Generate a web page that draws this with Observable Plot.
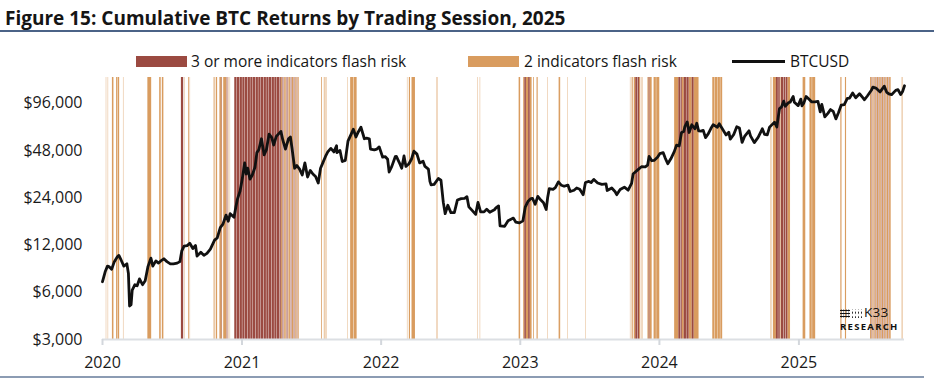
<!DOCTYPE html>
<html><head><meta charset="utf-8">
<script src="https://cdn.jsdelivr.net/npm/d3@7"></script>
<script src="https://cdn.jsdelivr.net/npm/@observablehq/plot@0.6"></script>
<style>
body{margin:0;background:#fff;font-family:"Open Sans",sans-serif;color:#111;}
#wrap{position:relative;width:934px;height:386px;overflow:hidden;background:#fff;}
#chart{position:absolute;left:0;top:0;}
.title{position:absolute;left:5px;top:5px;font-weight:700;font-size:19px;white-space:nowrap;color:#151515;}
.hr{position:absolute;left:0;width:934px;}
.sw{position:absolute;}
.lt{position:absolute;font-size:15.5px;white-space:nowrap;color:#151515;line-height:20px;}
.logo{position:absolute;white-space:nowrap;}
</style></head>
<body>
<div id="wrap">
  <div id="chart"></div>
  <div class="title" id="title"></div>
  <div class="hr" style="top:30px;height:1.5px;background:#4b6387"></div>
  <div class="hr" style="top:376px;height:2px;width:924px;background:#8c9cb3"></div>
  <div id="legend"></div>
  <div class="logo" style="left:840px;top:309px;width:10px;height:9px;background-image:radial-gradient(circle,#111 0.9px,transparent 1.1px);background-size:2.5px 3px;"></div>
  <div class="logo" style="left:851px;top:309px;width:12px;height:9px;background-image:radial-gradient(circle,#111 0.8px,transparent 1px);background-size:3px 4.5px;background-position:0 1.5px;"></div>
  <div class="logo" id="k33" style="left:864px;top:306px;font-size:13.5px;line-height:13px;letter-spacing:0.3px;"></div>
  <div class="logo" id="research" style="left:840px;top:322px;font-size:9.5px;line-height:9px;font-weight:700;letter-spacing:1.3px;"></div>
</div>
<script>
const titleText = "Figure 15: Cumulative BTC Returns by Trading Session, 2025";
const legendLabels = ["3 or more indicators flash risk", "2 indicators flash risk", "BTCUSD"];
const colorRisk3 = "#9b4a41";
const colorRisk2 = "#d99c5f";
const yTicks = [3000, 6000, 12000, 24000, 48000, 96000];
const yearTicks = ["2020-01-01","2021-01-01","2022-01-01","2023-01-01","2024-01-01","2025-01-01"];

// periods where 3 or more indicators flash risk [start, end)
const risk3Ranges = [
  ["2020-07-26","2020-08-01"],["2020-11-08","2020-11-09"],["2020-11-23","2020-11-25"],
  ["2020-12-13","2020-12-19"],["2020-12-20","2020-12-26"],["2020-12-27","2021-01-02"],
  ["2021-01-03","2021-01-09"],["2021-01-10","2021-01-16"],["2021-01-17","2021-01-23"],
  ["2021-01-24","2021-01-30"],["2021-01-31","2021-02-06"],["2021-02-07","2021-02-13"],
  ["2021-02-14","2021-02-20"],["2021-02-21","2021-02-27"],["2021-02-28","2021-03-06"],
  ["2021-03-07","2021-03-13"],["2021-03-14","2021-03-20"],["2021-03-21","2021-03-27"],
  ["2021-03-28","2021-04-03"],["2021-04-04","2021-04-10"],["2021-04-11","2021-04-14"],
  ["2021-04-17","2021-04-18"],["2021-04-19","2021-04-20"],["2021-04-21","2021-04-22"],
  ["2021-04-28","2021-04-29"],["2021-04-30","2021-05-01"],["2021-05-02","2021-05-03"],
  ["2021-05-09","2021-05-10"],["2021-05-11","2021-05-12"],["2021-05-18","2021-05-19"],
  ["2021-05-20","2021-05-21"],["2021-05-26","2021-05-27"],
  ["2023-01-13","2023-01-17"],["2023-01-23","2023-01-27"],
  ["2023-10-31","2023-11-05"],["2023-11-06","2023-11-10"],["2023-12-05","2023-12-07"],
  ["2024-02-21","2024-02-26"],["2024-02-27","2024-03-01"],["2024-03-06","2024-03-12"],
  ["2024-03-13","2024-03-19"],["2024-03-27","2024-04-01"],
  ["2024-11-03","2024-11-08"],["2024-11-09","2024-11-13"],["2024-11-16","2024-11-22"],
  ["2024-11-23","2024-11-28"],["2024-11-29","2024-12-03"],
  ["2025-07-12","2025-07-13"],["2025-07-18","2025-07-19"],["2025-07-24","2025-07-25"],
  ["2025-07-30","2025-07-31"],["2025-08-06","2025-08-07"],["2025-08-12","2025-08-13"],
  ["2025-08-18","2025-08-19"],["2025-08-25","2025-08-26"]
];
// periods where 2 indicators flash risk [start, end)
const risk2Ranges = [
  ["2020-01-11","2020-01-12"],["2020-01-16","2020-01-17"],["2020-01-27","2020-01-31"],
  ["2020-02-07","2020-02-10"],["2020-02-11","2020-02-15"],["2020-02-25","2020-02-26"],
  ["2020-04-29","2020-05-09"],["2020-05-30","2020-06-03"],["2020-06-06","2020-06-10"],
  ["2020-08-04","2020-08-05"],["2020-08-14","2020-08-16"],["2020-08-18","2020-08-19"],
  ["2020-10-19","2020-10-20"],["2020-10-22","2020-10-24"],["2020-10-26","2020-10-29"],
  ["2020-11-04","2020-11-08"],["2020-11-09","2020-11-11"],["2020-11-14","2020-11-22"],
  ["2020-11-28","2020-11-29"],["2020-12-01","2020-12-02"],
  ["2021-04-14","2021-04-17"],["2021-04-23","2021-04-27"],["2021-05-04","2021-05-08"],
  ["2021-05-13","2021-05-17"],["2021-05-22","2021-05-25"],["2021-05-28","2021-05-31"],
  ["2021-07-29","2021-07-31"],["2021-08-05","2021-08-06"],["2021-08-07","2021-08-08"],
  ["2021-08-09","2021-08-10"],["2021-08-11","2021-08-12"],
  ["2021-10-06","2021-10-07"],["2021-10-13","2021-10-21"],["2021-10-22","2021-10-30"],
  ["2022-03-11","2022-03-12"],["2022-03-16","2022-03-19"],["2022-03-23","2022-04-01"],
  ["2022-05-27","2022-05-28"],["2022-05-29","2022-05-30"],
  ["2022-09-11","2022-09-12"],["2022-09-18","2022-09-19"],
  ["2022-12-29","2023-01-02"],["2023-01-10","2023-01-13"],["2023-01-17","2023-01-23"],
  ["2023-01-27","2023-02-01"],["2023-02-05","2023-02-07"],["2023-02-14","2023-02-17"],
  ["2023-03-14","2023-03-15"],["2023-04-12","2023-04-13"],["2023-04-14","2023-04-17"],
  ["2023-05-05","2023-05-06"],["2023-06-22","2023-06-23"],
  ["2023-10-17","2023-10-18"],["2023-10-20","2023-10-21"],["2023-10-23","2023-10-25"],
  ["2023-10-27","2023-10-31"],["2023-11-10","2023-11-13"],["2023-11-15","2023-11-16"],
  ["2023-11-18","2023-11-19"],["2023-12-02","2023-12-05"],["2023-12-07","2023-12-13"],
  ["2023-12-18","2023-12-24"],["2023-12-25","2024-01-02"],
  ["2024-02-10","2024-02-21"],["2024-03-01","2024-03-06"],["2024-03-19","2024-03-27"],
  ["2024-04-01","2024-04-14"],
  ["2024-05-20","2024-05-26"],["2024-05-27","2024-06-03"],["2024-06-04","2024-06-09"],
  ["2024-06-10","2024-06-15"],
  ["2024-10-19","2024-10-20"],["2024-10-21","2024-10-22"],["2024-10-26","2024-11-03"],
  ["2024-11-13","2024-11-15"],["2024-12-03","2024-12-10"],
  ["2025-01-12","2025-01-19"],["2025-01-30","2025-02-05"],["2025-02-06","2025-02-14"],
  ["2025-04-21","2025-04-24"],["2025-05-03","2025-05-06"],
  ["2025-07-08","2025-07-11"],["2025-07-14","2025-07-17"],["2025-07-20","2025-07-23"],
  ["2025-07-26","2025-07-29"],["2025-08-01","2025-08-05"],["2025-08-08","2025-08-11"],
  ["2025-08-14","2025-08-17"],["2025-08-20","2025-08-24"],["2025-08-27","2025-08-31"],
  ["2025-09-29","2025-09-30"],["2025-10-01","2025-10-02"]
];

const btcDates = ["2020-01-01","2020-01-08","2020-01-14","2020-01-19","2020-01-25","2020-02-01","2020-02-09","2020-02-13","2020-02-19","2020-02-26","2020-03-05","2020-03-09","2020-03-12","2020-03-16","2020-03-19","2020-03-26","2020-04-01","2020-04-07","2020-04-15","2020-04-22","2020-04-29","2020-05-07","2020-05-12","2020-05-20","2020-05-27","2020-06-02","2020-06-10","2020-06-18","2020-06-27","2020-07-05","2020-07-15","2020-07-22","2020-07-27","2020-08-02","2020-08-10","2020-08-17","2020-08-25","2020-09-01","2020-09-05","2020-09-15","2020-09-23","2020-10-01","2020-10-10","2020-10-21","2020-10-28","2020-11-05","2020-11-12","2020-11-20","2020-11-26","2020-12-01","2020-12-11","2020-12-16","2020-12-20","2020-12-27","2021-01-02","2021-01-08","2021-01-12","2021-01-16","2021-01-22","2021-01-28","2021-02-04","2021-02-09","2021-02-14","2021-02-21","2021-02-28","2021-03-06","2021-03-13","2021-03-20","2021-03-25","2021-04-01","2021-04-13","2021-04-18","2021-04-25","2021-05-03","2021-05-08","2021-05-12","2021-05-19","2021-05-25","2021-06-01","2021-06-08","2021-06-15","2021-06-22","2021-06-29","2021-07-06","2021-07-13","2021-07-20","2021-07-26","2021-08-01","2021-08-08","2021-08-14","2021-08-22","2021-08-30","2021-09-06","2021-09-07","2021-09-15","2021-09-21","2021-09-29","2021-10-06","2021-10-15","2021-10-20","2021-10-27","2021-11-02","2021-11-09","2021-11-18","2021-11-24","2021-12-01","2021-12-04","2021-12-14","2021-12-21","2021-12-27","2022-01-05","2022-01-12","2022-01-18","2022-01-22","2022-01-29","2022-02-07","2022-02-10","2022-02-17","2022-02-24","2022-03-02","2022-03-07","2022-03-15","2022-03-22","2022-03-28","2022-04-05","2022-04-12","2022-04-21","2022-04-26","2022-05-05","2022-05-09","2022-05-12","2022-05-20","2022-05-31","2022-06-07","2022-06-13","2022-06-18","2022-06-25","2022-07-03","2022-07-12","2022-07-20","2022-07-30","2022-08-08","2022-08-14","2022-08-19","2022-08-27","2022-09-06","2022-09-12","2022-09-19","2022-09-28","2022-10-05","2022-10-13","2022-10-25","2022-10-29","2022-11-05","2022-11-09","2022-11-21","2022-11-30","2022-12-14","2022-12-20","2022-12-30","2023-01-08","2023-01-14","2023-01-21","2023-01-29","2023-02-02","2023-02-09","2023-02-16","2023-02-24","2023-03-03","2023-03-10","2023-03-14","2023-03-18","2023-03-28","2023-04-03","2023-04-11","2023-04-19","2023-04-26","2023-05-06","2023-05-12","2023-05-22","2023-05-29","2023-06-06","2023-06-15","2023-06-21","2023-06-30","2023-07-06","2023-07-13","2023-07-23","2023-08-03","2023-08-14","2023-08-17","2023-08-29","2023-09-07","2023-09-11","2023-09-20","2023-10-01","2023-10-11","2023-10-20","2023-10-24","2023-11-01","2023-11-09","2023-11-15","2023-11-25","2023-12-01","2023-12-05","2023-12-12","2023-12-18","2023-12-27","2024-01-02","2024-01-11","2024-01-16","2024-01-23","2024-01-31","2024-02-09","2024-02-15","2024-02-22","2024-02-28","2024-03-05","2024-03-08","2024-03-14","2024-03-19","2024-03-26","2024-04-03","2024-04-08","2024-04-13","2024-04-19","2024-04-25","2024-05-01","2024-05-08","2024-05-15","2024-05-21","2024-06-01","2024-06-06","2024-06-14","2024-06-24","2024-07-01","2024-07-05","2024-07-14","2024-07-22","2024-07-29","2024-08-05","2024-08-12","2024-08-23","2024-08-27","2024-09-06","2024-09-16","2024-09-27","2024-10-03","2024-10-10","2024-10-16","2024-10-29","2024-11-04","2024-11-11","2024-11-16","2024-11-22","2024-11-26","2024-12-05","2024-12-09","2024-12-17","2024-12-20","2024-12-30","2025-01-06","2025-01-09","2025-01-14","2025-01-20","2025-01-27","2025-02-03","2025-02-12","2025-02-20","2025-02-26","2025-03-02","2025-03-10","2025-03-18","2025-03-25","2025-04-01","2025-04-08","2025-04-15","2025-04-22","2025-04-30","2025-05-08","2025-05-14","2025-05-22","2025-05-30","2025-06-09","2025-06-17","2025-06-22","2025-06-30","2025-07-10","2025-07-14","2025-07-22","2025-08-02","2025-08-13","2025-08-19","2025-08-25","2025-09-01","2025-09-12","2025-09-18","2025-09-25","2025-09-30","2025-10-05"];
const btcValues = [7000,8100,8800,8700,8400,9400,10100,10300,9600,8800,9100,7900,4900,5000,6200,6700,6600,7300,6700,7100,8700,9900,8800,9500,9200,9500,9800,9400,9100,9100,9200,9400,11000,11800,11900,12300,11400,11900,10200,10800,10300,10600,11300,12900,13300,15500,16300,18600,17000,19000,18000,21000,23500,26500,32000,40000,34000,37000,31500,33500,37500,46500,48500,57000,45000,48500,61000,58000,52000,59000,63500,56000,49000,57000,58500,50000,37000,38500,36500,33500,40000,32500,35800,34000,32800,29800,37000,40000,44000,47000,49500,47000,51500,46500,48000,40800,41500,55000,61500,65500,58500,63000,67500,57000,57500,57000,49000,48500,49000,50600,43500,43800,42200,35000,38000,43800,44000,40500,37000,44300,38000,39500,42500,47500,45500,40000,41000,38000,36500,30500,29000,29200,31800,31000,22500,19000,21500,19300,19300,23200,23700,23800,24400,21000,20000,18800,22400,19500,19500,20300,19400,20100,20700,21300,15900,15800,17100,17800,16800,16600,17100,20900,22700,23700,23800,21800,24500,23200,22300,20200,24200,27400,27100,27800,30300,28800,28400,28900,26300,26800,27700,27200,25100,30000,30500,30000,31400,29800,29200,29400,26700,27700,26200,25100,27100,28000,26800,29600,34000,35400,36800,37800,37700,38700,44000,41300,41500,43500,45800,46500,43100,39500,42500,47200,51900,51300,62500,63500,68300,73000,62500,70000,66000,71600,64000,63800,64500,58000,61200,66200,70100,67500,71000,66000,60300,62800,56700,60700,68000,66800,54000,59300,64100,59500,53900,58200,66000,60700,60300,67600,72700,67800,88700,90600,99000,91900,97000,97400,106000,97500,92700,102000,92500,96500,106000,102000,98000,97800,98500,84500,94300,78500,82700,87500,85200,76300,83700,93400,94200,103000,103500,111500,103900,110300,104500,101000,107100,116000,121500,119900,113300,123300,113000,110000,108800,115900,117300,109000,114000,124000];

document.getElementById("title").textContent = titleText;
document.getElementById("k33").textContent = "K33";
document.getElementById("research").textContent = "RESEARCH";

// legend
const lg = document.getElementById("legend");
lg.innerHTML = `
 <div class="sw" style="left:136px;top:56px;width:51px;height:11px;background:${colorRisk3}"></div>
 <div class="lt" style="left:191px;top:51px">${legendLabels[0]}</div>
 <div class="sw" style="left:468px;top:56px;width:51px;height:11px;background:${colorRisk2}"></div>
 <div class="lt" style="left:524px;top:51px">${legendLabels[1]}</div>
 <div class="sw" style="left:732px;top:60px;width:53px;height:3px;background:#111"></div>
 <div class="lt" style="left:790px;top:51px">${legendLabels[2]}</div>`;

const parse = s => new Date(s + "T00:00:00Z");
const bands2 = risk2Ranges.map(([a,b]) => ({start: parse(a), end: parse(b)}));
const bands3 = risk3Ranges.map(([a,b]) => ({start: parse(a), end: parse(b)}));
const btc = btcDates.map((d,i) => ({date: parse(d), value: btcValues[i]}));

const chart = Plot.plot({
  width: 934, height: 386,
  marginTop: 77, marginBottom: 47, marginLeft: 102, marginRight: 30,
  style: {fontFamily: "'Open Sans', sans-serif", fontSize: "15.5px", color: "#1a1a1a", background: "transparent", overflow: "visible"},
  x: {type: "utc", domain: [parse("2020-01-01"), parse("2025-10-05")]},
  y: {type: "log", base: 2, domain: [3000, 140000]},
  marks: [
    Plot.rect(bands2, {x1: "start", x2: "end", fill: colorRisk2, shapeRendering: "geometricPrecision"}),
    Plot.rect(bands3, {x1: "start", x2: "end", fill: colorRisk3, shapeRendering: "geometricPrecision"}),
    Plot.ruleY([3000], {stroke: "#dcdfe3", strokeWidth: 2}),
    Plot.axisX({ticks: yearTicks.map(parse), tickFormat: "%Y", tickSize: 6, tickPadding: 11, stroke: "#d3d7dc", strokeWidth: 2, fontSize: 16, label: null}),
    Plot.axisY({ticks: yTicks, tickFormat: d => "$" + d3.format(",")(d), tickSize: 0, tickPadding: 20, fontSize: 16, label: null}),
    Plot.line(btc, {x: "date", y: "value", stroke: "#111", strokeWidth: 2.8, strokeLinejoin: "round"})
  ]
});
document.getElementById("chart").appendChild(chart);
</script>
</body></html>
